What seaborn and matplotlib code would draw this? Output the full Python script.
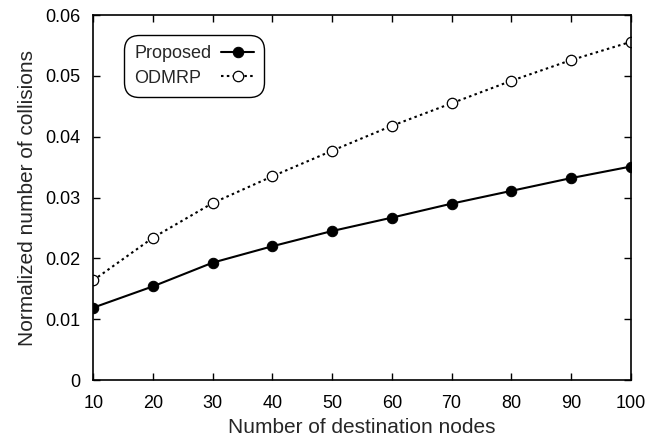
import numpy as np
import pandas as pd
import matplotlib
matplotlib.use("Agg")
import matplotlib.pyplot as plt
import seaborn as sns

nodes = [10, 20, 30, 40, 50, 60, 70, 80, 90, 100]
proposed = [0.0119, 0.0154, 0.0193, 0.0220, 0.0245, 0.0267, 0.0290, 0.0311, 0.0332, 0.0351]
odmrp = [0.0164, 0.0234, 0.0291, 0.0335, 0.0377, 0.0418, 0.0455, 0.0492, 0.0526, 0.0556]
series_names = ["Proposed", "ODMRP"]
x_ticks = [10, 20, 30, 40, 50, 60, 70, 80, 90, 100]
y_ticks = [0, 0.01, 0.02, 0.03, 0.04, 0.05, 0.06]
y_tick_labels = ["0", "0.01", "0.02", "0.03", "0.04", "0.05", "0.06"]

sns.set_style("ticks")
plt.rcParams['font.family'] = ['Liberation Sans', 'DejaVu Sans']

df = pd.DataFrame({
    "x": nodes * 2,
    "y": proposed + odmrp,
    "series": [series_names[0]] * len(nodes) + [series_names[1]] * len(nodes),
})

fig = plt.figure(figsize=(6.66, 4.45), dpi=100)
ax = fig.add_axes([0.140, 0.146, 0.807, 0.820])

sns.lineplot(data=df[df.series == "Proposed"], x="x", y="y", ax=ax, color="black",
             linestyle="-", linewidth=1.5, marker="o", markersize=7.5,
             markerfacecolor="black", markeredgecolor="black", label="Proposed")
sns.lineplot(data=df[df.series == "ODMRP"], x="x", y="y", ax=ax, color="black",
             linestyle=(0, (1.2, 1.6)), linewidth=1.5, marker="o", markersize=7.5,
             markerfacecolor="white", markeredgecolor="black", markeredgewidth=0.9,
             label="ODMRP")

ax.set_xlim(10, 100)
ax.set_ylim(0, 0.06)
ax.set_xticks(x_ticks)
ax.set_yticks(y_ticks)
ax.set_yticklabels(y_tick_labels)
ax.tick_params(direction="in", top=True, right=True, labelsize=13, length=5, width=1,
               colors="black")
ax.tick_params(axis="y", pad=9)
ax.tick_params(axis="x", pad=11)
for s in ax.spines.values():
    s.set_linewidth(1.2)
    s.set_color("black")
ax.set_xlabel("Number of destination nodes", fontsize=15, labelpad=4)
ax.set_ylabel("Normalized number of collisions", fontsize=15, labelpad=6)

leg = ax.legend(loc="upper left", bbox_to_anchor=(0.058, 0.945), markerfirst=False,
                fontsize=13, handlelength=1.8, handletextpad=0.55, frameon=True,
                fancybox=True, borderpad=0.55, labelspacing=0.42, borderaxespad=0)
leg.get_frame().set_edgecolor("black")
leg.get_frame().set_linewidth(1.0)
leg.get_frame().set_alpha(1)
leg.get_frame().set_boxstyle("round", pad=0, rounding_size=0.8)

# left-align the label texts while keeping the handles aligned on the right
fig.canvas.draw()
renderer = fig.canvas.get_renderer()
for col in leg._legend_handle_box.get_children():
    rows = col.get_children()
    w = max(r.get_bbox(renderer).width for r in rows)
    col.width = w
    for r in rows:
        r.mode = "expand"

fig.savefig("out.png", dpi=100)
